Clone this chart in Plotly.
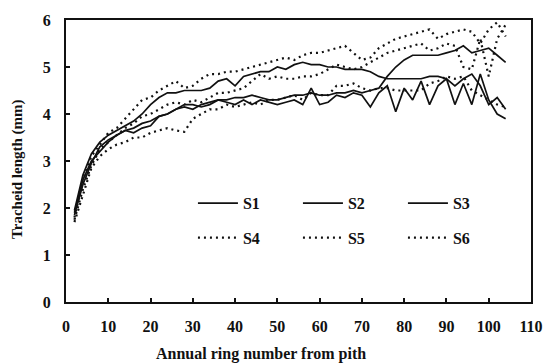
import plotly.graph_objects as go

# Annual ring number from pith (every second ring)
rings = list(range(2, 106, 2))

# Tracheid length (mm) for each sample
s1 = [1.95, 2.7, 3.15, 3.4, 3.55, 3.65, 3.75, 3.85, 4.0, 4.2, 4.35, 4.45, 4.45, 4.5, 4.5, 4.5,
      4.55, 4.7, 4.75, 4.6, 4.8, 4.85, 4.9, 4.9, 5.0, 4.95, 5.05, 5.1, 5.05, 5.05, 5.0, 5.0,
      4.95, 4.95, 4.95, 4.9, 4.8, 4.75, 4.75, 4.75, 4.75, 4.75, 4.8, 4.8, 4.75, 4.6, 4.75, 4.85,
      4.6, 4.2, 4.35, 4.1]
s2 = [1.9, 2.6, 3.0, 3.2, 3.4, 3.55, 3.65, 3.7, 3.8, 3.85, 3.95, 4.0, 4.1, 4.15, 4.1, 4.2,
      4.25, 4.3, 4.3, 4.35, 4.35, 4.4, 4.35, 4.3, 4.3, 4.35, 4.4, 4.4, 4.45, 4.4, 4.4, 4.45,
      4.45, 4.5, 4.45, 4.5, 4.55, 4.8, 5.0, 5.15, 5.25, 5.25, 5.25, 5.25, 5.3, 5.35, 5.45, 5.3,
      5.35, 5.4, 5.25, 5.1]
s3 = [1.85, 2.5, 2.95, 3.3, 3.45, 3.55, 3.65, 3.6, 3.7, 3.75, 3.95, 4.0, 4.1, 4.2, 4.2, 4.15,
      4.2, 4.3, 4.25, 4.2, 4.3, 4.2, 4.3, 4.25, 4.2, 4.25, 4.3, 4.2, 4.55, 4.2, 4.25, 4.4,
      4.35, 4.45, 4.4, 4.15, 4.45, 4.6, 4.05, 4.55, 4.3, 4.7, 4.2, 4.6, 4.75, 4.2, 4.65, 4.2,
      4.85, 4.3, 4.0, 3.9]
s4 = [1.8, 2.6, 3.1, 3.35, 3.6, 3.7, 3.9, 4.1, 4.3, 4.35, 4.5, 4.6, 4.7, 4.55, 4.6, 4.75,
      4.85, 4.85, 4.9, 4.9, 4.95, 5.0, 5.05, 5.1, 5.15, 5.2, 5.15, 5.25, 5.3, 5.3, 5.35, 5.4,
      5.45, 5.3, 5.15, 5.2, 5.4, 5.5, 5.6, 5.65, 5.7, 5.75, 5.8, 5.6, 5.7, 5.75, 5.8, 5.75,
      5.5, 5.8, 5.95, 5.65]
s5 = [1.75, 2.4, 2.9, 3.25, 3.4, 3.55, 3.7, 3.8, 3.95, 4.0, 4.1, 4.2, 4.25, 4.2, 4.3, 4.25,
      4.35, 4.45, 4.45, 4.5, 4.55, 4.7, 4.85, 4.75, 4.8, 4.75, 4.75, 4.8, 4.8, 4.85, 4.95, 5.05,
      5.0, 4.95, 5.0, 5.1, 5.2, 5.3, 5.35, 5.4, 5.45, 5.5, 5.35, 5.4, 5.5, 5.45, 5.0, 4.95,
      5.6, 4.8, 5.6, 5.9]
s6 = [1.7, 2.3, 2.85, 3.1, 3.25, 3.35, 3.4, 3.5, 3.5, 3.6, 3.65, 3.7, 3.65, 3.62, 3.9, 4.0,
      4.1, 4.1, 4.2, 4.15, 4.2, 4.25, 4.2, 4.3, 4.3, 4.35, 4.4, 4.3, 4.45, 4.4, 4.4, 4.6,
      4.6, 4.65, 4.55, 4.5, 4.55, 4.55, 4.5, 4.5, 4.5, 4.5, 4.65, 4.7, 4.8, 4.75, 4.8, 4.5,
      4.4, 4.3, 4.2, 4.15]

series = [("S1", s1), ("S2", s2), ("S3", s3), ("S4", s4), ("S5", s5), ("S6", s6)]

x_ticks = list(range(0, 111, 10))
y_ticks = list(range(0, 7, 1))

FONT = "Liberation Serif, serif"
INK = "#111111"
bold = lambda size: dict(family=FONT, size=size, color=INK, weight="bold")

fig = go.Figure()
for i, (name, vals) in enumerate(series):
    solid = i < 3
    fig.add_trace(go.Scatter(
        x=rings, y=vals, name=name, mode="lines",
        line=dict(color=INK, width=1.7 if solid else 2.2,
                  dash="solid" if solid else "2px,4px"),
        legend="legend" if solid else "legend2",
    ))

legend_style = dict(
    orientation="h", xanchor="left", yanchor="middle",
    bgcolor="rgba(0,0,0,0)", borderwidth=0,
    font=bold(16),
    entrywidth=50, entrywidthmode="pixels", itemwidth=40,
    tracegroupgap=0,
)

fig.update_layout(
    width=555, height=364,
    margin=dict(l=66, r=16, t=15, b=62),
    paper_bgcolor="white", plot_bgcolor="white",
    font=dict(family=FONT, size=15, color=INK),
    legend=dict(x=0.273, y=0.35, **legend_style),
    legend2=dict(x=0.273, y=0.228, **legend_style),
    xaxis=dict(
        range=[0, 110], tickvals=x_ticks, ticktext=[str(v) for v in x_ticks],
        ticks="inside", ticklen=4, tickwidth=1.5, tickcolor=INK,
        showline=True, linecolor=INK, linewidth=2, mirror=True,
        showgrid=False, zeroline=False, ticklabelstandoff=9,
        tickfont=bold(16),
    ),
    yaxis=dict(
        range=[0, 6], tickvals=y_ticks, ticktext=[str(v) for v in y_ticks],
        ticks="inside", ticklen=4, tickwidth=1.5, tickcolor=INK,
        showline=True, linecolor=INK, linewidth=2, mirror=True,
        showgrid=False, zeroline=False, ticklabelstandoff=10,
        tickfont=bold(16),
    ),
    annotations=[
        dict(text="Annual ring number from pith", xref="paper", yref="paper",
             x=0.42, y=-0.185, xanchor="center", yanchor="middle", showarrow=False,
             font=bold(16)),
        dict(text="Tracheid length (mm)", xref="paper", yref="paper",
             x=-0.104, y=0.47, xanchor="center", yanchor="middle", showarrow=False,
             textangle=-90, font=bold(15)),
    ],
)

fig.write_html("out.html")
